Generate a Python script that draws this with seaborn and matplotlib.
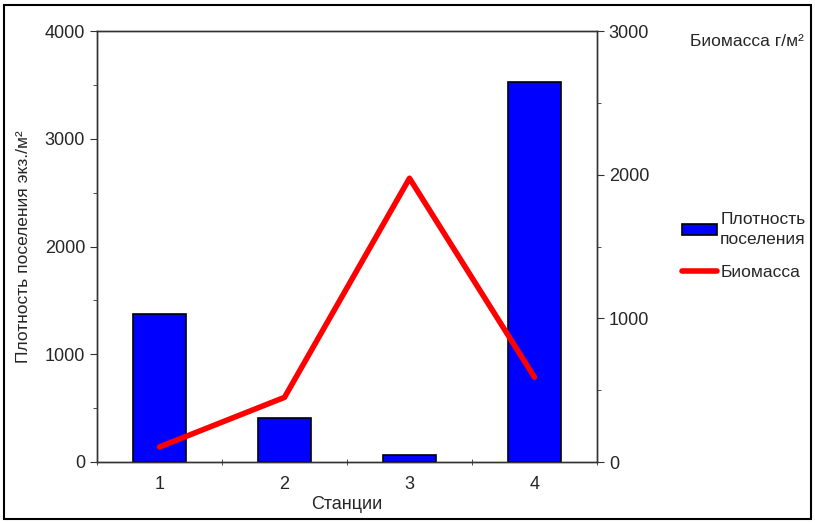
import numpy as np
import pandas as pd
import matplotlib
matplotlib.use("Agg")
import matplotlib.pyplot as plt
from matplotlib.ticker import MultipleLocator, FixedLocator
from matplotlib.patches import Patch
from matplotlib.lines import Line2D
import seaborn as sns

# data
stations = ["1", "2", "3", "4"]
density = [1375, 405, 65, 3530]      # экз./м2, left axis
biomass = [105, 450, 1975, 590]      # г/м2, right axis

sns.set_style("ticks")
plt.rcParams["font.family"] = ["Liberation Sans", "DejaVu Sans"]
plt.rcParams["font.size"] = 13

df = pd.DataFrame({"station": stations, "density": density, "biomass": biomass})

fig = plt.figure(figsize=(8.15, 5.23), dpi=100)
ax = fig.add_axes([97 / 815, 1 - 462 / 523, 500 / 815, 431 / 523])

sns.barplot(data=df, x="station", y="density", color="#0000ff", saturation=1,
            edgecolor="black", linewidth=1.2, width=0.42, ax=ax)
ax.set_xlim(-0.5, 3.5)
ax.set_ylim(0, 4000)
ax.yaxis.set_major_locator(MultipleLocator(1000))
ax.yaxis.set_minor_locator(MultipleLocator(500))
ax.xaxis.set_major_locator(FixedLocator([0, 1, 2, 3]))
ax.xaxis.set_minor_locator(FixedLocator([-0.5, 0.5, 1.5, 2.5, 3.5]))
ax.tick_params(axis="x", which="major", length=0, pad=10, labelsize=13)
ax.tick_params(axis="x", which="minor", length=5, direction="inout", color="#333333")
ax.tick_params(axis="y", which="both", direction="out", color="#333333", labelsize=13)
ax.tick_params(axis="y", which="major", length=5)
ax.tick_params(axis="y", which="minor", length=3)
ax.set_xlabel("Станции", fontsize=13, labelpad=2)
ax.set_ylabel("Плотность поселения экз./м²", fontsize=12.5, labelpad=10)
for s in ax.spines.values():
    s.set_color("#333333")
    s.set_linewidth(1.0)

ax2 = ax.twinx()
sns.lineplot(x=np.arange(len(stations)), y=biomass, color="#ff0000",
             linewidth=4, ax=ax2, legend=False)
ax2.set_ylim(0, 3000)
ax2.set_xlim(-0.5, 3.5)
ax2.yaxis.set_major_locator(MultipleLocator(1000))
ax2.yaxis.set_minor_locator(MultipleLocator(500))
ax2.tick_params(axis="y", which="both", direction="out", color="#333333", labelsize=13)
ax2.tick_params(axis="y", which="major", length=5)
ax2.tick_params(axis="y", which="minor", length=3)
ax2.set_ylabel("")
for s in ax2.spines.values():
    s.set_color("#333333")
    s.set_linewidth(1.0)

fig.text(690 / 815, 1 - 42 / 523, "Биомасса г/м²", fontsize=12.5, va="center")

handles = [
    Patch(facecolor="#0000ff", edgecolor="black", linewidth=1.2),
    Line2D([0], [0], color="#ff0000", linewidth=4),
]
leg = fig.legend(handles, ["Плотность\nпоселения", "Биомасса"],
                 loc="upper left", bbox_to_anchor=(675 / 815, 1 - 205 / 523),
                 frameon=False, fontsize=12.5, handlelength=2.0, handleheight=0.6,
                 handletextpad=0.2, labelspacing=1.0, borderaxespad=0)
for t in leg.get_texts():
    t.set_linespacing(1.45)

# black frame around the whole picture
fig.patches.append(plt.Rectangle((4 / 815, 4 / 523), 807 / 815, 514 / 523,
                                 transform=fig.transFigure, fill=False,
                                 edgecolor="black", linewidth=1.5))

fig.savefig("out.png", dpi=100)
